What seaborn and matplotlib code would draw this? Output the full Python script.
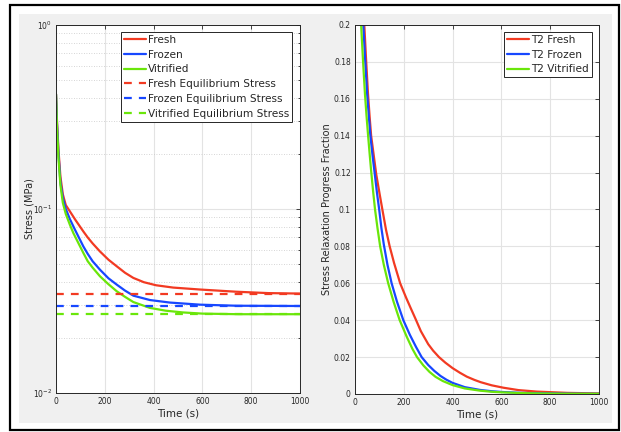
import numpy as np
import pandas as pd
import matplotlib
matplotlib.use("Agg")
import matplotlib.pyplot as plt
from matplotlib.patches import Rectangle
from matplotlib.ticker import FuncFormatter, LogLocator
import seaborn as sns

sns.set_theme(style="white")
plt.rcParams['font.family'] = ['DejaVu Sans']

# ---- left panel: stress (MPa) ----
t_fresh = [0, 4, 10, 18, 28, 40, 57, 80, 112, 130, 150, 180, 215, 249, 283, 317, 360, 410, 480, 590, 740, 870, 1000]
s_fresh = [0.42, 0.30, 0.21, 0.15, 0.12, 0.105, 0.097, 0.087, 0.0755, 0.070, 0.065, 0.0588, 0.053, 0.0488, 0.045,
           0.0422, 0.040, 0.0385, 0.0374, 0.0365, 0.0355, 0.0349, 0.0347]
t_frozen = [0, 4, 10, 18, 28, 40, 57, 78, 112, 130, 150, 180, 215, 249, 283, 317, 385, 467, 590, 740, 1000]
s_frozen = [0.42, 0.29, 0.20, 0.14, 0.115, 0.100, 0.088, 0.077, 0.0626, 0.057, 0.052, 0.0468, 0.042, 0.0388, 0.036,
            0.0338, 0.0320, 0.0310, 0.0302, 0.0298, 0.0297]
t_vitri = [0, 4, 10, 18, 28, 40, 57, 71, 112, 130, 150, 180, 215, 249, 283, 317, 385, 450, 520, 600, 750, 1000]
s_vitri = [0.42, 0.28, 0.19, 0.135, 0.108, 0.094, 0.082, 0.074, 0.0577, 0.052, 0.048, 0.0431, 0.039, 0.0357,
           0.0333, 0.0312, 0.029, 0.028, 0.0274, 0.027, 0.0268, 0.0268]
eq_fresh, eq_frozen, eq_vitri = 0.0347, 0.0297, 0.0268

# ---- right panel: relaxation progress fraction ----
p_t_fresh = [20, 30, 38, 45, 53, 60, 66, 75, 87, 100, 112, 127, 142, 160, 185, 210, 230, 247, 270, 300, 320,
             344, 370, 400, 430, 458, 490, 515, 560, 608, 670, 745, 870, 1000]
p_fresh = [0.245, 0.218, 0.2, 0.182, 0.163, 0.150, 0.140, 0.131, 0.119, 0.109, 0.10, 0.089, 0.080, 0.071, 0.06,
           0.052, 0.046, 0.041, 0.034, 0.027, 0.0235, 0.020, 0.017, 0.014, 0.0115, 0.0094, 0.0076, 0.0064,
           0.0047, 0.0034, 0.0021, 0.0013, 0.0006, 0.0003]
p_t_frozen = [20, 28, 34, 42, 50, 57, 63, 72, 82, 90, 99, 108, 118, 133, 150, 172, 198, 225, 250, 273, 300,
              325, 350, 375, 400, 450, 512, 560, 600, 680, 750, 850, 1000]
p_frozen = [0.235, 0.215, 0.2, 0.18, 0.162, 0.150, 0.140, 0.129, 0.118, 0.109, 0.10, 0.09, 0.081, 0.070, 0.06,
            0.05, 0.04, 0.032, 0.0255, 0.020, 0.0157, 0.0125, 0.0098, 0.0077, 0.006, 0.0037, 0.0022, 0.0015,
            0.0011, 0.0006, 0.0004, 0.0002, 0.0001]
p_t_vitri = [10, 18, 25, 33, 41, 47, 53, 60, 66, 74, 82, 92, 103, 118, 136, 158, 183, 212, 235, 254, 280, 305,
             330, 360, 400, 450, 512, 560, 600, 680, 750, 850, 1000]
p_vitri = [0.24, 0.22, 0.2, 0.18, 0.162, 0.151, 0.141, 0.13, 0.121, 0.11, 0.10, 0.09, 0.08, 0.07, 0.06, 0.05,
           0.04, 0.031, 0.0245, 0.020, 0.0155, 0.012, 0.0093, 0.007, 0.0048, 0.003, 0.0018, 0.0012, 0.0009,
           0.0005, 0.0003, 0.00015, 0.0001]

red, blue, green = "#f23a22", "#1747ff", "#6ae60a"
txt = "#262626"
lw = 1.6

fig = plt.figure(figsize=(6.21, 4.32), dpi=100, facecolor="white")
# grey matlab-like figure area and black frame
fig.patches.append(Rectangle((0.0306, 0.0208), 0.955, 0.9468, transform=fig.transFigure,
                             facecolor="#f0f0f0", edgecolor="none", zorder=-2))
fig.patches.append(Rectangle((0.0161, 0.0046), 0.98, 0.984, transform=fig.transFigure,
                             facecolor="none", edgecolor="black", linewidth=1.6, zorder=10))

ax1 = fig.add_axes([0.0902, 0.0903, 0.3929, 0.8519])
ax2 = fig.add_axes([0.5717, 0.0880, 0.3929, 0.8542])

# left
sns.lineplot(x=t_fresh, y=s_fresh, ax=ax1, color=red, lw=lw, label="Fresh")
sns.lineplot(x=t_frozen, y=s_frozen, ax=ax1, color=blue, lw=lw, label="Frozen")
sns.lineplot(x=t_vitri, y=s_vitri, ax=ax1, color=green, lw=lw, label="Vitrified")
for eq, c, name in [(eq_fresh, red, "Fresh"), (eq_frozen, blue, "Frozen"), (eq_vitri, green, "Vitrified")]:
    sns.lineplot(x=[0, 1000], y=[eq, eq], ax=ax1, color=c, lw=lw, linestyle=(0, (3.5, 3.2)),
                 label=f"{name} Equilibrium Stress")
ax1.set_yscale("log")
ax1.set_ylim(0.01, 1)
ax1.set_xlim(0, 1000)
ax1.set_xticks([0, 200, 400, 600, 800, 1000])
ax1.yaxis.set_major_locator(LogLocator(base=10, numticks=5))
ax1.yaxis.set_minor_locator(LogLocator(base=10, subs=np.arange(2, 10), numticks=20))
ax1.set_ylabel("Stress (MPa)", fontsize=7, color=txt, labelpad=-1)
ax1.set_xlabel("Time (s)", fontsize=7.5, color=txt, labelpad=2)
ax1.grid(True, which="major", color="#e3e3e3", linewidth=0.8)
ax1.yaxis.grid(True, which="minor", color="#c8c8c8", linestyle=(0, (1, 2)), linewidth=0.6)

# right
sns.lineplot(x=p_t_fresh, y=p_fresh, ax=ax2, color=red, lw=lw, label="T2 Fresh")
sns.lineplot(x=p_t_frozen, y=p_frozen, ax=ax2, color=blue, lw=lw, label="T2 Frozen")
sns.lineplot(x=p_t_vitri, y=p_vitri, ax=ax2, color=green, lw=lw, label="T2 Vitrified")
ax2.set_ylim(0, 0.2)
ax2.set_xlim(0, 1000)
ax2.set_xticks([0, 200, 400, 600, 800, 1000])
ax2.set_yticks(np.linspace(0, 0.2, 11))
ax2.yaxis.set_major_formatter(FuncFormatter(lambda v, p: f"{v:g}"))
ax2.set_ylabel("Stress Relaxation Progress Fraction", fontsize=7, color=txt, labelpad=1)
ax2.set_xlabel("Time (s)", fontsize=7.5, color=txt, labelpad=2)
ax2.grid(True, which="major", color="#e3e3e3", linewidth=0.8)

for ax in (ax1, ax2):
    ax.set_facecolor("white")
    ax.set_axisbelow(True)
    for sp in ax.spines.values():
        sp.set_color(txt)
        sp.set_linewidth(0.7)
    ax.tick_params(which="both", direction="in", top=True, right=True, colors=txt,
                   labelsize=5.5, length=3, width=0.6, pad=3)
    ax.tick_params(which="minor", length=1.8)

leg1 = ax1.legend(loc="upper right", bbox_to_anchor=(0.968, 0.982), fontsize=7.6, handlelength=2.1,
                  handletextpad=0.15, borderpad=0.3, labelspacing=0.45, fancybox=False,
                  framealpha=1, edgecolor=txt, borderaxespad=0)
leg1.get_frame().set_linewidth(0.7)
leg2 = ax2.legend(loc="upper right", bbox_to_anchor=(0.97, 0.982), fontsize=7.6, handlelength=2.1,
                  handletextpad=0.15, borderpad=0.3, labelspacing=0.45, fancybox=False,
                  framealpha=1, edgecolor=txt, borderaxespad=0)
leg2.get_frame().set_linewidth(0.7)

fig.savefig("out.png", dpi=100, facecolor="white")
